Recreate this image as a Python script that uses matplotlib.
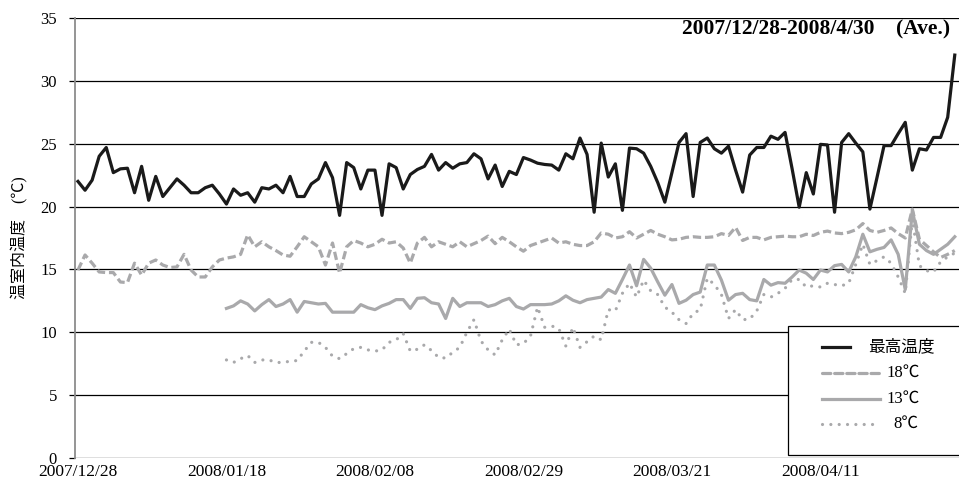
import matplotlib
matplotlib.use('Agg')
import matplotlib.pyplot as plt
from matplotlib.patches import Rectangle
from matplotlib.lines import Line2D

plt.rcParams['font.family'] = ['Liberation Serif', 'Noto Sans CJK JP']

# daily values, day 0 = 2007/12/28, day 124 = 2008/4/30
TICK_DAYS = [0, 21, 42, 63, 84, 105]
TICK_LABELS = ['2007/12/28', '2008/01/18', '2008/02/08', '2008/02/29', '2008/03/21', '2008/04/11']

MAX_TEMP = [
    22.0, 21.3, 22.1, 24.0, 24.7, 22.7, 23.0, 23.05, 21.1, 23.2, 20.5, 22.4, 20.8, 21.5, 22.2, 21.7,
    21.1, 21.1, 21.5, 21.7, 21.0, 20.2,
    21.4, 20.9, 21.1, 20.35, 21.5, 21.4, 21.7, 21.1, 22.4, 20.8, 20.8, 21.8, 22.2, 23.5, 22.3, 19.3,
    23.5, 23.1, 21.4, 22.9, 22.9,
    19.3, 23.4, 23.1, 21.4, 22.55, 22.95, 23.2, 24.15, 22.9, 23.5, 23.05, 23.4, 23.5, 24.2, 23.8, 22.2,
    23.3, 21.6, 22.8, 22.55, 23.9,
    23.7, 23.45, 23.35, 23.3, 22.9, 24.2, 23.8, 25.45, 24.15, 19.55, 25.05, 22.35, 23.4, 19.7, 24.65,
    24.6, 24.25, 23.2, 21.9, 20.35,
    22.7,
    25.1, 25.8, 20.8, 25.1, 25.45, 24.6, 24.25, 24.8, 22.9, 21.15, 24.1, 24.7, 24.7, 25.6, 25.35, 25.9,
    23.0, 19.95, 22.7, 21.0,
    24.95, 24.9, 19.55, 25.1, 25.8, 25.05, 24.35, 19.8, 22.3, 24.85, 24.85, 25.8, 26.7, 22.9, 24.6,
    24.5, 25.5, 25.5, 27.1, 32.05,
]

SET_18 = [
    14.95, 16.15, 15.5, 14.8, 14.75, 14.75, 14.0, 13.95, 15.5, 14.55, 15.5, 15.75, 15.35, 15.15, 15.2,
    16.2, 14.95, 14.4, 14.4, 15.2, 15.75, 15.9,
    16.0, 16.2, 17.75, 16.8, 17.2, 16.8, 16.5, 16.15, 16.05, 16.8, 17.6, 17.2, 16.8, 15.35, 17.1, 14.7,
    16.8, 17.3, 17.1, 16.8, 17.0,
    17.4, 17.1, 17.2, 16.7, 15.5, 17.1, 17.55, 16.8, 17.2, 17.0, 16.8, 17.2, 16.8, 17.05, 17.3, 17.65,
    17.05, 17.55, 17.2, 16.8, 16.45,
    16.9, 17.1, 17.3, 17.5, 17.1, 17.2, 17.0, 16.9, 16.9, 17.2, 17.9, 17.8, 17.5, 17.6, 18.0, 17.5,
    17.8, 18.1, 17.8, 17.6, 17.35,
    17.4, 17.55, 17.6, 17.55, 17.55, 17.6, 17.85, 17.7, 18.35, 17.3, 17.55, 17.55, 17.35, 17.55, 17.6,
    17.65, 17.6, 17.6, 17.8,
    17.7, 17.95, 18.05, 17.9, 17.85, 17.95, 18.15, 18.65, 18.1, 17.95, 18.1, 18.3, 17.85, 17.5, 19.8,
    17.4, 16.9, 16.4, 15.95, 16.2, 16.5,
]

START_SET = 21  # 13 and 8 start on 2008/01/18
SET_13 = [
    11.9, 12.1, 12.5, 12.25, 11.7, 12.2, 12.6, 12.05, 12.25, 12.6, 11.6, 12.45, 12.35, 12.25, 12.3,
    11.6, 11.6, 11.6, 11.6, 12.2, 11.95, 11.8, 12.1, 12.3, 12.6, 12.6, 11.9, 12.7, 12.75, 12.35, 12.25,
    11.1, 12.7, 12.05, 12.35, 12.35, 12.35, 12.05, 12.2, 12.5, 12.7, 12.05, 11.85, 12.2, 12.2, 12.2,
    12.25, 12.5, 12.9, 12.55, 12.35, 12.6, 12.7, 12.8, 13.4, 13.1, 14.2, 15.35, 13.7, 15.8, 15.1, 14.0,
    12.95, 13.8, 12.3, 12.55, 13.0, 13.2, 15.35, 15.35, 14.15, 12.55, 13.0, 13.1, 12.6, 12.5, 14.2,
    13.75, 13.95, 13.9, 14.4, 14.95, 14.7, 14.2, 14.95, 14.8, 15.3, 15.4, 14.8, 16.0, 17.8, 16.4, 16.6,
    16.75, 17.35, 16.2, 13.4, 19.7, 17.0, 16.5, 16.2, 16.6, 17.0, 17.6,
]
SET_8 = [
    7.8, 7.6, 7.9, 8.15, 7.6, 7.8, 7.8, 7.6, 7.6, 7.7, 7.75, 8.5, 9.2, 9.2, 8.8, 8.1, 7.9, 8.3, 8.7,
    8.8, 8.6, 8.5, 8.6, 9.2, 9.4, 9.9, 8.5, 8.65, 9.0, 8.55, 8.0, 7.95, 8.4, 8.8, 10.0, 11.0, 9.3, 8.6,
    8.2, 9.4, 10.25, 9.0, 9.1, 9.7, 12.0, 10.4, 10.5, 10.3, 8.9, 10.4, 8.8, 9.25, 9.7, 9.4, 11.8, 11.7,
    13.1, 13.9, 12.8, 14.15, 13.3, 13.0, 12.0, 11.6, 11.0, 10.7, 11.5, 11.8, 14.3, 13.8, 13.0, 11.1,
    11.8, 11.0, 11.05, 11.7, 13.0, 12.8, 13.1, 13.5, 14.2, 14.2, 13.6, 13.7, 13.6, 13.9, 13.8, 13.7,
    13.9, 15.4, 17.0, 15.4, 15.7, 16.0, 15.5, 14.4, 13.1, 19.0, 15.3, 14.9, 14.8, 15.6, 16.0, 16.3,
]

LABELS = ['最高温度', '18℃', '13℃', '8℃']
BLACK = '#1a1a1a'
GRAY = '#a9a9ab'
DASH = (0, (2.6, 1.2))
DOT = (0, (0.01, 2.6))

fig = plt.figure(figsize=(9.59, 4.91), dpi=100)
ax = fig.add_axes([75 / 959, 1 - 458 / 491, 884 / 959, 440 / 491])

days = list(range(len(MAX_TEMP)))
days_set = list(range(START_SET, START_SET + len(SET_13)))

ax.plot(days, MAX_TEMP, color=BLACK, lw=2.3, zorder=5)
ax.plot(days, SET_18, color=GRAY, lw=2.3, linestyle=DASH, zorder=4)
ax.plot(days_set, SET_13, color=GRAY, lw=2.3, zorder=4)
ax.plot(days_set, SET_8, color=GRAY, lw=2.3, linestyle=DOT, dash_capstyle='round', zorder=4)

ax.set_ylim(0, 35)
ax.set_xlim(-0.42, 124.6)
ax.set_yticks(range(0, 36, 5))
ax.yaxis.grid(True, color='black', lw=0.9)
ax.set_axisbelow(True)
ax.set_xticks(TICK_DAYS)
ax.set_xticklabels(TICK_LABELS)
ax.tick_params(axis='y', length=4, width=0.9, color='black', pad=9, labelsize=12)
ax.tick_params(axis='x', length=0, pad=4, labelsize=12.5)
for side in ['top', 'right', 'bottom']:
    ax.spines[side].set_visible(False)
ax.spines['left'].set_color('#8c8c8c')
ax.spines['left'].set_linewidth(1.3)

ax.set_ylabel('温室内温度　(℃)', fontsize=11.5)
ax.yaxis.set_label_coords(-0.053, 0.5)

ax.text(0.9898, 0.973, '2007/12/28-2008/4/30    (Ave.)', transform=ax.transAxes,
        ha='right', va='center', fontsize=15.5, fontweight='bold')


# legend drawn by hand: frame runs past the right edge, handles differ in length
def ax_x(px):
    return (px - 75) / 884


def ax_y(py):
    return (458 - py) / 440


ax.add_patch(Rectangle((ax_x(788), ax_y(455)), 0.3, ax_y(326) - ax_y(455), transform=ax.transAxes,
                       facecolor='white', edgecolor='black', lw=0.9, clip_on=False, zorder=8))
rows = [
    (347, 850, 868, BLACK, '-'),
    (373, 880, 886, GRAY, DASH),
    (399, 880, 886, GRAY, '-'),
    (424, 880, 893, GRAY, DOT),
]
for (py, x_end, x_text, color, style), label in zip(rows, LABELS):
    ax.add_line(Line2D([ax_x(822), ax_x(x_end)], [ax_y(py), ax_y(py)], transform=ax.transAxes,
                       color=color, lw=2.3, linestyle=style, dash_capstyle='round',
                       clip_on=False, zorder=9))
    ax.text(ax_x(x_text), ax_y(py), label, transform=ax.transAxes, ha='left', va='center',
            fontsize=12, zorder=9)

fig.savefig('out.png', dpi=100)
